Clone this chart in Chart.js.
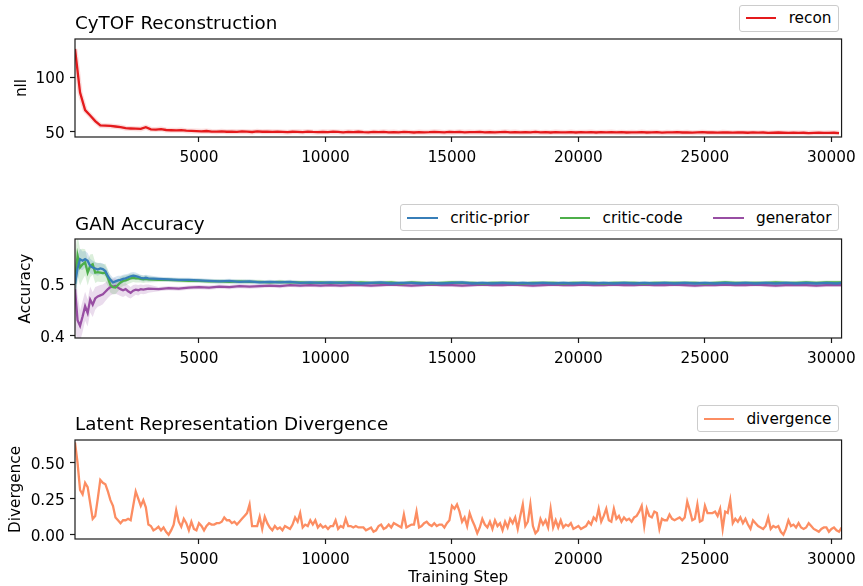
<!DOCTYPE html>
<html>
<head>
<meta charset="utf-8">
<script src="https://cdn.jsdelivr.net/npm/chart.js@4.4.1/dist/chart.umd.min.js"></script>
<style>
  body { margin: 0; background: #fff; }
  #fig { position: relative; width: 863px; height: 586px; font-family: "DejaVu Sans", sans-serif; }
  #fig canvas { position: absolute; left: 0; }
  .title { position: absolute; left: 75px; font-size: 18.3px; line-height: 21px; color: #000; white-space: nowrap; }
  .legend { position: absolute; right: 24.5px; height: 27px; box-sizing: border-box; border: 1px solid #ccc; border-radius: 3px;
            background: #fff; display: flex; align-items: center; padding: 0 6px; font-size: 15.3px; color: #000; }
  .legend .item { display: flex; align-items: center; }
  .legend .item + .item { margin-left: 30.6px; }
  .legend .line { width: 30.6px; height: 2.3px; margin-right: 12.2px; }
</style>
</head>
<body>
<div id="fig">
  <canvas id="c1" width="863" height="180" style="top:0px"></canvas>
  <canvas id="c2" width="863" height="180" style="top:190px"></canvas>
  <canvas id="c3" width="863" height="186" style="top:400px"></canvas>

  <div class="title" style="top:12.3px">CyTOF Reconstruction</div>
  <div class="title" style="top:212.5px">GAN Accuracy</div>
  <div class="title" style="top:413px">Latent Representation Divergence</div>

  <div class="legend" style="top:4.5px">
    <div class="item"><span class="line" style="background:#e41a1c"></span>recon</div>
  </div>
  <div class="legend" style="top:204.3px">
    <div class="item"><span class="line" style="background:#377eb8"></span>critic-prior</div>
    <div class="item"><span class="line" style="background:#4daf4a"></span>critic-code</div>
    <div class="item"><span class="line" style="background:#984ea3"></span>generator</div>
  </div>
  <div class="legend" style="top:405.3px">
    <div class="item"><span class="line" style="background:#fc8d62"></span>divergence</div>
  </div>
</div>

<script>
// colours (matplotlib Set1 / Set2)
const colors = {
  recon: '#e41a1c',
  prior: '#377eb8',
  code: '#4daf4a',
  generator: '#984ea3',
  divergence: '#fc8d62'
};

// x ticks shared by all three panels
const stepTicks = [5000, 10000, 15000, 20000, 25000, 30000];

// ---- CyTOF reconstruction (nll), one value every 200 steps from 100
const reconSteps = [];
for (let s = 100; s <= 30300; s += 200) reconSteps.push(s);
const reconNll = [
  126, 86, 70, 65, 60, 56, 55.8, 55.5, 55, 54.5,
  53.5, 53.2, 53, 52.8, 54.3, 52.4, 52.2, 52.6, 51.8, 51.6,
  51.5, 51.7, 51.2, 51, 50.8, 50.6, 50.9, 50.4, 50.3, 50.6,
  50.2, 50.4, 50.1, 50.5, 50.3, 50, 50.6, 50.2, 50.4, 50.1,
  50.3, 50, 49.8, 50.2, 50.1, 49.9, 50.4, 50, 49.8, 50.1,
  49.9, 50.3, 50, 49.7, 50.1, 49.9, 50.2, 49.8, 49.6, 50,
  49.8, 50.1, 49.7, 49.9, 49.6, 50, 49.8, 49.5, 49.9, 49.7,
  49.8, 50.1, 49.9, 49.6, 50, 49.8, 50.1, 49.7, 49.9, 49.8,
  50, 49.7, 49.9, 49.6, 49.8, 50.1, 49.7, 49.9, 49.6, 49.8,
  49.7, 50, 49.6, 49.8, 49.5, 49.9, 49.7, 49.6, 49.9, 49.5,
  49.8, 49.7, 49.9, 49.5, 49.8, 49.7, 49.9, 49.6, 49.8, 49.5,
  49.7, 49.6, 49.9, 49.5, 49.7, 49.8, 49.4, 49.7, 49.6, 49.8,
  49.5, 49.7, 49.4, 49.6, 49.8, 49.5, 49.6, 49.4, 49.7, 49.5,
  49.4, 49.6, 49.5, 49.3, 49.6, 49.4, 49.5, 49.1, 49.3, 49.5,
  49.3, 49.1, 49.4, 49.2, 49.3, 49.0, 49.2, 49.4, 49.1, 49.2,
  49.3, 49.0
];

// ---- GAN accuracy: every 100 steps up to 3000, then every 400
const ganSteps = [];
for (let s = 100; s <= 3000; s += 100) ganSteps.push(s);
for (let s = 3400; s <= 30200; s += 400) ganSteps.push(s);
ganSteps.push(30400);

const criticPrior = [
  0.50, 0.53, 0.548, 0.545, 0.548, 0.545, 0.535, 0.532, 0.53, 0.528,
  0.53, 0.529, 0.525, 0.515, 0.508, 0.503, 0.505, 0.507, 0.508, 0.51,
  0.511, 0.513, 0.515, 0.516, 0.515, 0.514, 0.512, 0.511, 0.512, 0.511,
  0.51, 0.509, 0.508, 0.508, 0.507, 0.506, 0.505, 0.506, 0.504, 0.505,
  0.503, 0.504, 0.503, 0.504, 0.502, 0.503, 0.502, 0.503, 0.502, 0.503,
  0.501, 0.502, 0.503, 0.501, 0.502, 0.502, 0.501, 0.502, 0.501, 0.502,
  0.503, 0.501, 0.502, 0.501, 0.502, 0.501, 0.502, 0.501, 0.502, 0.501,
  0.502, 0.501, 0.502, 0.501, 0.502, 0.501, 0.502, 0.501, 0.502, 0.501,
  0.502, 0.501, 0.502, 0.501, 0.502, 0.501, 0.502, 0.501, 0.502, 0.501,
  0.502, 0.501, 0.502, 0.501, 0.502, 0.501, 0.502, 0.501, 0.502
];
const criticCode = [
  0.50, 0.555, 0.532, 0.538, 0.542, 0.522, 0.535, 0.538, 0.522, 0.523,
  0.522, 0.521, 0.522, 0.512, 0.498, 0.494, 0.493, 0.498, 0.503, 0.506,
  0.507, 0.509, 0.511, 0.512, 0.511, 0.511, 0.51, 0.509, 0.51, 0.509,
  0.508, 0.508, 0.507, 0.506, 0.506, 0.505, 0.505, 0.504, 0.505, 0.504,
  0.504, 0.503, 0.504, 0.503, 0.503, 0.502, 0.503, 0.502, 0.503, 0.502,
  0.503, 0.502, 0.502, 0.503, 0.501, 0.503, 0.502, 0.501, 0.502, 0.503,
  0.502, 0.502, 0.501, 0.502, 0.502, 0.502, 0.501, 0.502, 0.502, 0.502,
  0.501, 0.502, 0.502, 0.502, 0.501, 0.502, 0.502, 0.502, 0.501, 0.502,
  0.502, 0.502, 0.502, 0.502, 0.501, 0.502, 0.503, 0.502, 0.502, 0.502,
  0.502, 0.503, 0.502, 0.502, 0.503, 0.502, 0.503, 0.503, 0.503
];
const generator = [
  0.49, 0.43, 0.419, 0.437, 0.457, 0.444, 0.47, 0.46, 0.472, 0.476,
  0.478, 0.48, 0.485, 0.49, 0.494, 0.495, 0.496, 0.493, 0.49, 0.488,
  0.49, 0.486, 0.483, 0.487, 0.489, 0.488, 0.49, 0.489, 0.49, 0.491,
  0.49, 0.492, 0.491, 0.493, 0.494, 0.493, 0.495, 0.494, 0.496, 0.495,
  0.496, 0.497, 0.496, 0.498, 0.497, 0.498, 0.497, 0.498, 0.497, 0.498,
  0.498, 0.497, 0.498, 0.499, 0.498, 0.497, 0.498, 0.499, 0.498, 0.498,
  0.497, 0.498, 0.499, 0.498, 0.498, 0.499, 0.498, 0.497, 0.498, 0.499,
  0.498, 0.498, 0.499, 0.498, 0.498, 0.499, 0.498, 0.498, 0.499, 0.498,
  0.498, 0.499, 0.498, 0.497, 0.498, 0.498, 0.499, 0.498, 0.498, 0.499,
  0.498, 0.497, 0.498, 0.498, 0.498, 0.497, 0.498, 0.498, 0.498
];
// half-width of the shaded spread for the first 3000 steps (later ~0.004)
const priorSpread = [0.03, 0.025, 0.02, 0.018, 0.016, 0.015, 0.014, 0.013, 0.012, 0.012,
  0.011, 0.011, 0.01, 0.01, 0.01, 0.009, 0.009, 0.009, 0.008, 0.008,
  0.008, 0.007, 0.007, 0.007, 0.007, 0.006, 0.006, 0.006, 0.006, 0.006];
const codeSpread = [0.06, 0.04, 0.035, 0.03, 0.025, 0.025, 0.022, 0.02, 0.02, 0.018,
  0.018, 0.017, 0.017, 0.016, 0.015, 0.014, 0.013, 0.012, 0.011, 0.01,
  0.01, 0.009, 0.009, 0.008, 0.008, 0.008, 0.007, 0.007, 0.007, 0.006];
const generatorSpread = [0.07, 0.05, 0.03, 0.03, 0.028, 0.026, 0.025, 0.024, 0.022, 0.02,
  0.02, 0.019, 0.018, 0.017, 0.016, 0.015, 0.015, 0.014, 0.013, 0.013,
  0.012, 0.012, 0.011, 0.011, 0.01, 0.01, 0.009, 0.009, 0.009, 0.008];
const lateSpread = 0.004;

// ---- latent divergence, every 100 steps from 100
const divSteps = [];
for (let s = 100; s <= 30400; s += 100) divSteps.push(s);
const divergence = [
  0.64, 0.50, 0.31, 0.28, 0.36, 0.33, 0.22, 0.11, 0.13, 0.25,
  0.38, 0.36, 0.35, 0.30, 0.24, 0.20, 0.12, 0.10, 0.08, 0.10,
  0.10, 0.11, 0.10, 0.20, 0.30, 0.25, 0.20, 0.24, 0.19, 0.07,
  0.06, 0.03, 0.04, 0.055, 0.03, 0.05, 0.02, 0.00, 0.03, 0.07,
  0.17, 0.09, 0.055, 0.11, 0.08, 0.03, 0.09, 0.04, 0.03, 0.08,
  0.06, 0.03, 0.06, 0.08, 0.07, 0.07, 0.08, 0.08, 0.09, 0.12,
  0.10, 0.10, 0.08, 0.09, 0.07, 0.09, 0.11, 0.13, 0.15, 0.21,
  0.06, 0.06, 0.06, 0.125, 0.04, 0.125, 0.08, 0.05, 0.03, 0.06,
  0.04, 0.05, 0.03, 0.06, 0.05, 0.04, 0.07, 0.12, 0.09, 0.15,
  0.05, 0.07, 0.06, 0.10, 0.07, 0.10, 0.05, 0.07, 0.05, 0.06,
  0.04, 0.06, 0.06, 0.10, 0.04, 0.06, 0.05, 0.11, 0.06, 0.06,
  0.05, 0.06, 0.05, 0.05, 0.05, 0.03, 0.04, 0.05, 0.02, 0.03,
  0.06, 0.07, 0.04, 0.05, 0.07, 0.05, 0.08, 0.07, 0.06, 0.05,
  0.14, 0.05, 0.06, 0.07, 0.07, 0.16, 0.05, 0.06, 0.08, 0.09,
  0.07, 0.06, 0.08, 0.06, 0.07, 0.07, 0.05, 0.08, 0.10, 0.20,
  0.18, 0.21, 0.16, 0.09, 0.12, 0.06, 0.15, 0.10, 0.06, 0.01,
  0.05, 0.11, 0.07, 0.05, 0.09, 0.04, 0.10, 0.06, 0.08, 0.03,
  0.09, 0.05, 0.11, 0.08, 0.12, 0.04, 0.13, 0.21, 0.06, 0.09,
  0.21, 0.06, 0.01, 0.03, 0.11, 0.07, 0.10, 0.05, 0.18, 0.05,
  0.10, 0.05, 0.10, 0.05, 0.07, 0.06, 0.08, 0.04, 0.05, 0.06,
  0.04, 0.05, 0.06, 0.09, 0.07, 0.12, 0.10, 0.18, 0.09, 0.13,
  0.18, 0.10, 0.09, 0.18, 0.11, 0.13, 0.09, 0.12, 0.10, 0.11,
  0.09, 0.12, 0.13, 0.16, 0.20, 0.06, 0.18, 0.13, 0.12, 0.16,
  0.15, 0.04, 0.11, 0.10, 0.10, 0.14, 0.11, 0.10, 0.11, 0.12,
  0.10, 0.12, 0.23, 0.17, 0.10, 0.11, 0.21, 0.09, 0.10, 0.20,
  0.15, 0.15, 0.15, 0.16, 0.13, 0.18, 0.04, 0.16, 0.15, 0.24,
  0.08, 0.11, 0.09, 0.12, 0.08, 0.11, 0.07, 0.04, 0.10, 0.08,
  0.06, 0.05, 0.04, 0.06, 0.12, 0.04, 0.06, 0.05, 0.06, 0.02,
  0.00, 0.04, 0.10, 0.06, 0.07, 0.05, 0.08, 0.05, 0.04, 0.05,
  0.08, 0.06, 0.04, 0.03, 0.02, 0.04, 0.05, 0.05, 0.02, 0.04,
  0.05, 0.03, 0.02, 0.05
];

// utils
function xy(xs, ys) {
  return ys.map((y, i) => ({x: xs[i], y: y}));
}
function alpha(hex, a) {
  const n = parseInt(hex.slice(1), 16);
  return `rgba(${n >> 16},${(n >> 8) & 255},${n & 255},${a})`;
}
function line(data, color, width) {
  return {data: data, borderColor: color, borderWidth: width || 2.3, pointRadius: 0, fill: false, order: 0};
}
// upper and lower edge of a shaded band, upper fills down to the lower one
function band(mean, spread, color) {
  const upper = mean.map((m, i) => m + (spread[i] !== undefined ? spread[i] : lateSpread));
  const lower = mean.map((m, i) => m - (spread[i] !== undefined ? spread[i] : lateSpread));
  return [
    {data: xy(ganSteps, upper), borderWidth: 0, pointRadius: 0, fill: '+1', backgroundColor: alpha(color, 0.2), order: 10},
    {data: xy(ganSteps, lower), borderWidth: 0, pointRadius: 0, fill: false, order: 10}
  ];
}

Chart.defaults.font.family = '"DejaVu Sans", sans-serif';
Chart.defaults.color = '#000';

// matplotlib-like box round the plot area
const frame = {
  id: 'frame',
  afterDatasetsDraw(chart) {
    const {ctx, chartArea: a} = chart;
    ctx.save();
    ctx.strokeStyle = '#1a1a1a';
    ctx.lineWidth = 1.2;
    ctx.strokeRect(a.left, a.top, a.right - a.left, a.bottom - a.top);
    ctx.restore();
  }
};

function axis(opts) {
  return {
    type: 'linear',
    min: opts.min,
    max: opts.max,
    afterFit: opts.fit,
    afterBuildTicks: (s) => { s.ticks = opts.ticks.map(v => ({value: v})); },
    grid: {drawOnChartArea: false, drawTicks: true, tickLength: 5, tickWidth: 1.2, color: '#1a1a1a'},
    border: {display: false},
    ticks: {font: {size: 15.3}, color: '#000', padding: opts.pad, labelOffset: opts.labelOffset || 0,
            maxRotation: 0, autoSkip: false, callback: opts.format || (v => String(v))},
    title: opts.title || {display: false}
  };
}

function makeChart(id, datasets, o) {
  return new Chart(document.getElementById(id), {
    type: 'line',
    data: {datasets: datasets},
    options: {
      animation: false,
      responsive: false,
      devicePixelRatio: 1,
      layout: {padding: {top: o.padTop, right: 17, bottom: 0, left: 0}},
      plugins: {legend: {display: false}, tooltip: {enabled: false}},
      elements: {line: {tension: 0}},
      scales: {
        x: axis({min: 100, max: 30400, ticks: stepTicks, pad: 7, fit: s => { s.height = o.xHeight; }, title: o.xTitle}),
        y: axis({min: o.yMin, max: o.yMax, ticks: o.yTicks, format: o.yFormat, pad: 5.3, labelOffset: 2,
                 fit: s => { s.width = 75; },
                 title: {display: true, text: o.yLabel, font: {size: 15.3}, color: '#000', padding: {top: o.yLabelPad, bottom: 0}}})
      }
    },
    plugins: [frame]
  });
}

// panel 1
makeChart('c1', [
  {data: xy(reconSteps, reconNll), borderColor: alpha(colors.recon, 0.15), borderWidth: 5, pointRadius: 0, order: 10},
  line(xy(reconSteps, reconNll), colors.recon)
], {padTop: 39, xHeight: 43, yMin: 45.4, yMax: 135.1, yTicks: [50, 100], yLabel: 'nll', yLabelPad: 12.8});

// panel 2
makeChart('c2', [
  ...band(criticPrior, priorSpread, colors.prior),
  ...band(criticCode, codeSpread, colors.code),
  ...band(generator, generatorSpread, colors.generator),
  line(xy(ganSteps, criticPrior), colors.prior),
  line(xy(ganSteps, criticCode), colors.code),
  line(xy(ganSteps, generator), colors.generator)
], {padTop: 49, xHeight: 32, yMin: 0.3956, yMax: 0.587, yTicks: [0.4, 0.5], yLabel: 'Accuracy', yLabelPad: 16.8,
    yFormat: v => v.toFixed(1)});

// panel 3
makeChart('c3', [
  line(xy(divSteps, divergence), colors.divergence)
], {padTop: 40, xHeight: 47, yMin: -0.03, yMax: 0.657, yTicks: [0, 0.25, 0.5], yLabel: 'Divergence', yLabelPad: 7.3,
    yFormat: v => v.toFixed(2),
    xTitle: {display: true, text: 'Training Step', font: {size: 15.3, lineHeight: 1.1}, color: '#000', padding: {top: 0, bottom: 0}}});
</script>
</body>
</html>
